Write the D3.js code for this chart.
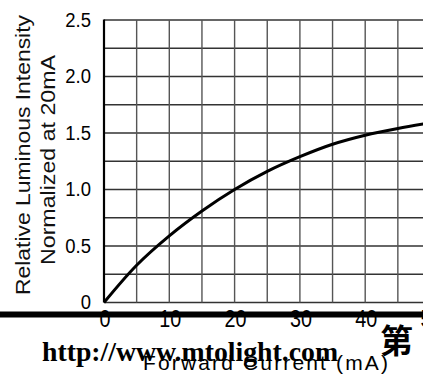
<!DOCTYPE html>
<html>
<head>
<meta charset="utf-8">
<script src="https://cdn.jsdelivr.net/npm/d3@7"></script>
<style>
  html, body { margin: 0; padding: 0; background: #fff; overflow: hidden; }
  svg { display: block; }
</style>
</head>
<body>
<svg id="chart" width="423" height="374"></svg>
<script>
// ---- data ----
const currentMA = [0, 5, 10, 15, 20, 25, 30, 35, 40, 45, 50];
const intensity = [0, 0.33, 0.59, 0.81, 1.0, 1.16, 1.29, 1.40, 1.48, 1.54, 1.59];
const xTicks = [0, 10, 20, 30, 40, 50];
const xGrid = [0, 5, 10, 15, 20, 25, 30, 35, 40, 45, 50];
const yTicks = [0, 0.5, 1.0, 1.5, 2.0, 2.5];
const yTickLabels = ["0", "0.5", "1.0", "1.5", "2.0", "2.5"];
const yGrid = [0, 0.25, 0.5, 0.75, 1.0, 1.25, 1.5, 1.75, 2.0, 2.25, 2.5];
const yTitle1 = "Relative Luminous Intensity";
const yTitle2 = "Normalized at 20mA";
const xTitle = "Forward Current (mA)";
const watermark = "http://www.mtolight.com";
const stamp = "第";

const svg = d3.select("#chart");
const narrow = "'Liberation Sans Narrow', 'Liberation Sans', Arial, sans-serif";

const x = d3.scaleLinear().domain([0, 50]).range([104, 430.5]);
const y = d3.scaleLinear().domain([0, 2.5]).range([302.5, 20]);

const g = svg.append("g");

// grid
g.selectAll("line.hg").data(yGrid).join("line")
  .attr("x1", x(0)).attr("x2", 423)
  .attr("y1", d => y(d)).attr("y2", d => y(d))
  .attr("stroke", "#333")
  .attr("stroke-width", 1.3);
g.selectAll("line.vg").data(xGrid.filter(d => d > 0)).join("line")
  .attr("x1", d => x(d)).attr("x2", d => x(d))
  .attr("y1", y(2.5)).attr("y2", y(0))
  .attr("stroke", "#555")
  .attr("stroke-width", 1.4);
// left axis line
g.append("line")
  .attr("x1", x(0)).attr("x2", x(0))
  .attr("y1", y(2.5) - 0.5).attr("y2", y(0))
  .attr("stroke", "#000").attr("stroke-width", 2.2);

// curve
const line = d3.line().x(d => x(d[0])).y(d => y(d[1])).curve(d3.curveCatmullRom.alpha(0.5));
g.append("path")
  .datum(currentMA.map((c, i) => [c, intensity[i]]))
  .attr("d", line)
  .attr("fill", "none")
  .attr("stroke", "#000")
  .attr("stroke-width", 3);

// y tick labels (condensed look)
g.selectAll("text.yt").data(yTicks).join("text")
  .attr("transform", d => `translate(91,${y(d) + 1}) scale(0.88,1)`)
  .attr("text-anchor", "end")
  .attr("dominant-baseline", "middle")
  .attr("font-family", narrow)
  .attr("font-size", 21)
  .attr("fill", "#000")
  .text((d, i) => yTickLabels[i]);

// x tick labels
g.selectAll("text.xt").data(xTicks).join("text")
  .attr("transform", d => `translate(${x(d) + 1},327) scale(0.9,1.1)`)
  .attr("text-anchor", "middle")
  .attr("font-family", narrow)
  .attr("font-size", 22)
  .attr("fill", "#000")
  .text(d => d);

// thick bar
g.append("rect")
  .attr("x", 0).attr("y", 311.5)
  .attr("width", 423).attr("height", 6)
  .attr("fill", "#000");

// y titles
g.append("text")
  .attr("transform", "translate(30,155) rotate(-90)")
  .attr("text-anchor", "middle")
  .attr("font-family", narrow)
  .attr("font-size", 21)
  .attr("textLength", 280).attr("lengthAdjust", "spacingAndGlyphs")
  .attr("fill", "#111")
  .text(yTitle1);
g.append("text")
  .attr("transform", "translate(55,160) rotate(-90)")
  .attr("text-anchor", "middle")
  .attr("font-family", narrow)
  .attr("font-size", 21)
  .attr("textLength", 210).attr("lengthAdjust", "spacingAndGlyphs")
  .attr("fill", "#111")
  .text(yTitle2);

// watermark url
g.append("text")
  .attr("x", 42).attr("y", 361)
  .attr("font-family", "'Liberation Serif', 'Times New Roman', serif")
  .attr("font-weight", "bold")
  .attr("font-size", 27)
  .attr("textLength", 296).attr("lengthAdjust", "spacingAndGlyphs")
  .attr("fill", "#000")
  .text(watermark);

// x title
g.append("text")
  .attr("x", 143).attr("y", 370)
  .attr("font-family", narrow)
  .attr("font-size", 21)
  .attr("textLength", 245).attr("lengthAdjust", "spacing")
  .attr("fill", "#000")
  .text(xTitle);

// stamp char
g.append("text")
  .attr("x", 380).attr("y", 353)
  .attr("font-family", "'Noto Sans CJK SC', sans-serif")
  .attr("font-size", 33)
  .attr("font-weight", "bold")
  .attr("fill", "#000")
  .text(stamp);
</script>
</body>
</html>
